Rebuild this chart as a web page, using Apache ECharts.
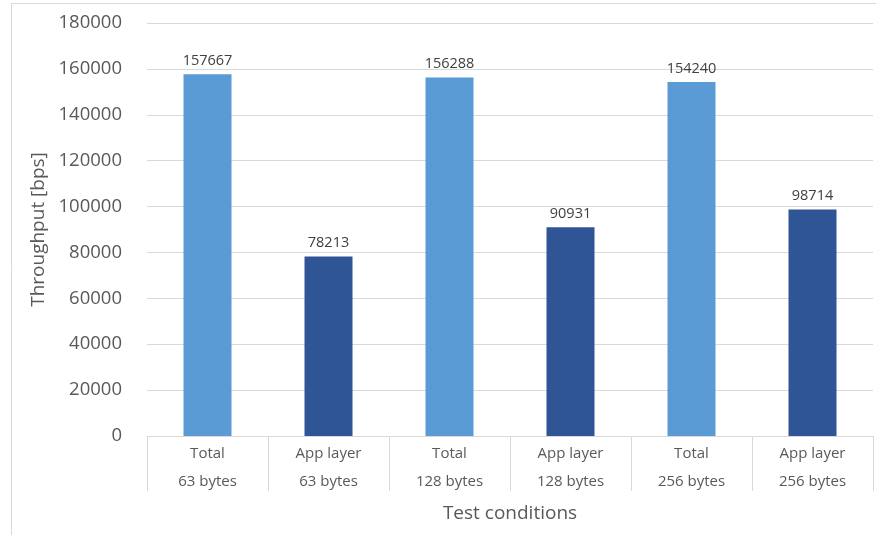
<!DOCTYPE html>
<html>
<head>
<meta charset="utf-8">
<script src="https://cdn.jsdelivr.net/npm/echarts@6/dist/echarts.min.js"></script>
<style>
  html, body { margin: 0; padding: 0; background: #fff; }
  #chart { width: 876px; height: 535px; }
</style>
</head>
<body>
<div id="chart"></div>
<script>
// Test conditions (two-line category labels)
const categories = [
  'Total\n63 bytes', 'App layer\n63 bytes',
  'Total\n128 bytes', 'App layer\n128 bytes',
  'Total\n256 bytes', 'App layer\n256 bytes'
];
// Measured throughput in bps
const throughput = [157667, 78213, 156288, 90931, 154240, 98714];
// Bar kind per category: total vs. application layer
const kinds = ['total', 'app', 'total', 'app', 'total', 'app'];
const kindColors = { total: '#5B9BD5', app: '#2F5597' };

const yMin = 0, yMax = 180000, yStep = 20000;
const font = '"Open Sans", "Noto Sans", sans-serif';
const textColor = '#595959';

const chart = echarts.init(document.getElementById('chart'));
chart.setOption({
  animation: false,
  backgroundColor: '#fff',
  textStyle: { fontFamily: font },
  graphic: [{
    type: 'rect',
    shape: { x: 11.5, y: 3.5, width: 880, height: 560 },
    style: { fill: 'none', stroke: '#d9d9d9', lineWidth: 1 },
    silent: true
  }],
  grid: { left: 147, right: 3, top: 23, bottom: 99 },
  xAxis: {
    type: 'category',
    data: categories,
    name: 'Test conditions',
    nameLocation: 'middle',
    nameGap: 68,
    nameTextStyle: { fontSize: 19, color: textColor, fontFamily: font },
    axisLine: { lineStyle: { color: '#d9d9d9', width: 1 } },
    axisTick: { show: true, interval: 0, length: 55, lineStyle: { color: '#d9d9d9' } },
    axisLabel: {
      interval: 0, margin: 4, fontSize: 15, lineHeight: 28,
      color: textColor, fontFamily: font
    }
  },
  yAxis: {
    type: 'value',
    min: yMin, max: yMax, interval: yStep,
    name: 'Throughput [bps]',
    nameLocation: 'middle',
    nameGap: 91,
    nameTextStyle: { fontSize: 19, color: textColor, fontFamily: font },
    axisLine: { show: false },
    axisTick: { show: false },
    axisLabel: {
      fontSize: 18.5, color: textColor, margin: 25, fontFamily: font,
      formatter: v => String(v)
    },
    splitLine: { lineStyle: { color: '#d9d9d9', width: 1 } }
  },
  series: [{
    type: 'bar',
    barWidth: 48,
    data: throughput.map((v, i) => ({
      value: v,
      itemStyle: { color: kindColors[kinds[i]] }
    })),
    label: {
      show: true, position: 'top', distance: 6,
      fontSize: 14.5, color: '#404040', fontFamily: font
    }
  }]
});
</script>
</body>
</html>
